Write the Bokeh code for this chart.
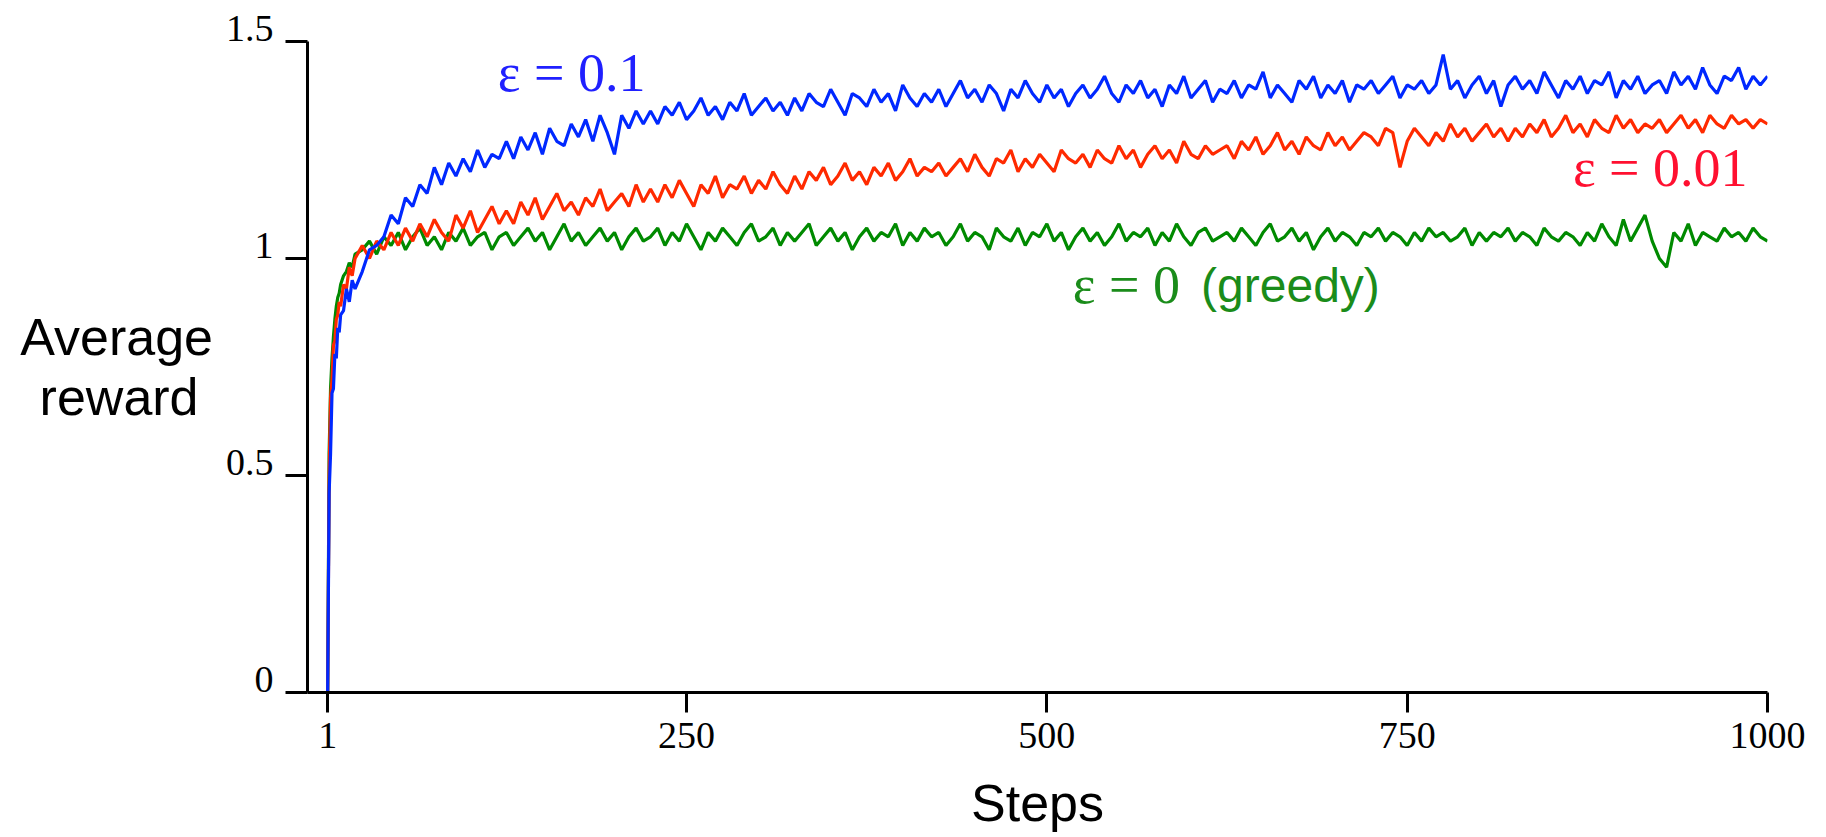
from bokeh.plotting import figure
from bokeh.models import Range1d, FixedTicker, Label
from bokeh.embed import file_html
from bokeh.resources import INLINE

# ---------------- data ----------------
STEPS = [1, 2, 3, 4, 5, 6, 7, 8, 9, 10, 12, 14, 16, 18, 20,
         25, 30, 35, 40, 45, 50, 55, 60, 65, 70, 75, 80, 85, 90, 95, 100, 105, 110, 115, 120,
         125, 130, 135, 140, 145, 150, 155, 160, 165, 170, 175, 180, 185, 190, 195, 200, 205, 210, 215, 220,
         225, 230, 235, 240, 245, 250, 255, 260, 265, 270, 275, 280, 285, 290, 295, 300, 305, 310, 315, 320,
         325, 330, 335, 340, 345, 350, 355, 360, 365, 370, 375, 380, 385, 390, 395, 400, 405, 410, 415, 420,
         425, 430, 435, 440, 445, 450, 455, 460, 465, 470, 475, 480, 485, 490, 495, 500, 505, 510, 515, 520,
         525, 530, 535, 540, 545, 550, 555, 560, 565, 570, 575, 580, 585, 590, 595, 600, 605, 610, 615, 620,
         625, 630, 635, 640, 645, 650, 655, 660, 665, 670, 675, 680, 685, 690, 695, 700, 705, 710, 715, 720,
         725, 730, 735, 740, 745, 750, 755, 760, 765, 770, 775, 780, 785, 790, 795, 800, 805, 810, 815, 820,
         825, 830, 835, 840, 845, 850, 855, 860, 865, 870, 875, 880, 885, 890, 895, 900, 905, 910, 915, 920,
         925, 930, 935, 940, 945, 950, 955, 960, 965, 970, 975, 980, 985, 990, 995, 1000]

EPS_01 = [0.0, 0.46, 0.55, 0.69, 0.70, 0.78, 0.77, 0.84, 0.83, 0.87, 0.88, 0.93, 0.90, 0.95, 0.93,
          0.97, 1.02, 1.03, 1.05, 1.10, 1.08, 1.14, 1.12, 1.17, 1.15, 1.21, 1.17, 1.22, 1.19, 1.23, 1.20, 1.25, 1.21, 1.24, 1.23,
          1.27, 1.23, 1.28, 1.25, 1.29, 1.24, 1.30, 1.27, 1.26, 1.31, 1.28, 1.32, 1.27, 1.33, 1.29, 1.24, 1.33, 1.30, 1.34, 1.31,
          1.34, 1.31, 1.35, 1.33, 1.36, 1.32, 1.34, 1.37, 1.33, 1.35, 1.32, 1.36, 1.34, 1.38, 1.33, 1.35, 1.37, 1.34, 1.36, 1.33,
          1.37, 1.34, 1.38, 1.36, 1.35, 1.39, 1.36, 1.33, 1.38, 1.37, 1.35, 1.39, 1.36, 1.38, 1.34, 1.40, 1.37, 1.35, 1.38, 1.36,
          1.39, 1.35, 1.38, 1.41, 1.37, 1.39, 1.36, 1.40, 1.38, 1.34, 1.39, 1.37, 1.41, 1.38, 1.36, 1.40, 1.37, 1.39, 1.35, 1.38,
          1.40, 1.37, 1.39, 1.42, 1.38, 1.36, 1.40, 1.38, 1.41, 1.37, 1.39, 1.35, 1.40, 1.38, 1.42, 1.37, 1.39, 1.41, 1.36, 1.39,
          1.38, 1.41, 1.37, 1.40, 1.39, 1.43, 1.37, 1.40, 1.38, 1.36, 1.41, 1.39, 1.42, 1.37, 1.40, 1.38, 1.41, 1.36, 1.40, 1.39,
          1.41, 1.38, 1.40, 1.42, 1.37, 1.40, 1.39, 1.41, 1.38, 1.40, 1.47, 1.39, 1.41, 1.37, 1.40, 1.42, 1.38, 1.41, 1.35, 1.40,
          1.42, 1.39, 1.41, 1.38, 1.43, 1.40, 1.37, 1.41, 1.39, 1.42, 1.38, 1.41, 1.40, 1.43, 1.37, 1.41, 1.39, 1.42, 1.38, 1.40,
          1.41, 1.38, 1.43, 1.40, 1.42, 1.39, 1.44, 1.40, 1.38, 1.42, 1.41, 1.44, 1.39, 1.42, 1.40, 1.42]

EPS_001 = [0.0, 0.50, 0.68, 0.72, 0.80, 0.81, 0.86, 0.87, 0.90, 0.89, 0.94, 0.93, 0.98, 0.96, 1.00,
           1.03, 1.00, 1.04, 1.02, 1.06, 1.03, 1.07, 1.04, 1.08, 1.05, 1.09, 1.06, 1.04, 1.10, 1.07, 1.11, 1.06, 1.09, 1.12, 1.08,
           1.11, 1.08, 1.13, 1.10, 1.14, 1.09, 1.12, 1.15, 1.11, 1.13, 1.10, 1.14, 1.12, 1.16, 1.11, 1.13, 1.15, 1.12, 1.17, 1.13,
           1.16, 1.13, 1.17, 1.14, 1.18, 1.15, 1.12, 1.17, 1.15, 1.19, 1.14, 1.17, 1.16, 1.19, 1.15, 1.18, 1.16, 1.20, 1.17, 1.15,
           1.19, 1.16, 1.20, 1.18, 1.21, 1.17, 1.19, 1.22, 1.18, 1.20, 1.17, 1.21, 1.19, 1.22, 1.18, 1.20, 1.23, 1.19, 1.21, 1.20,
           1.22, 1.19, 1.21, 1.23, 1.20, 1.24, 1.21, 1.19, 1.23, 1.22, 1.25, 1.20, 1.23, 1.21, 1.24, 1.22, 1.20, 1.25, 1.23, 1.22,
           1.24, 1.21, 1.25, 1.23, 1.22, 1.26, 1.23, 1.25, 1.21, 1.24, 1.26, 1.23, 1.25, 1.22, 1.27, 1.24, 1.23, 1.26, 1.24, 1.25,
           1.26, 1.23, 1.27, 1.25, 1.28, 1.24, 1.26, 1.29, 1.25, 1.27, 1.24, 1.28, 1.26, 1.25, 1.29, 1.26, 1.28, 1.25, 1.27, 1.29,
           1.28, 1.26, 1.30, 1.29, 1.21, 1.27, 1.30, 1.28, 1.26, 1.29, 1.27, 1.31, 1.28, 1.30, 1.27, 1.29, 1.31, 1.28, 1.30, 1.27,
           1.30, 1.28, 1.31, 1.29, 1.32, 1.28, 1.30, 1.33, 1.29, 1.31, 1.28, 1.32, 1.30, 1.29, 1.33, 1.30, 1.32, 1.29, 1.31, 1.30,
           1.32, 1.29, 1.31, 1.33, 1.30, 1.32, 1.29, 1.33, 1.31, 1.30, 1.33, 1.31, 1.32, 1.30, 1.32, 1.31]

EPS_0 = [0.0, 0.55, 0.70, 0.77, 0.82, 0.86, 0.89, 0.91, 0.92, 0.94, 0.96, 0.97, 0.99, 0.98, 1.01,
         1.02, 1.04, 1.01, 1.05, 1.03, 1.06, 1.02, 1.05, 1.07, 1.03, 1.05, 1.02, 1.06, 1.04, 1.07, 1.03, 1.05, 1.06, 1.02, 1.05,
         1.06, 1.03, 1.05, 1.07, 1.04, 1.06, 1.02, 1.05, 1.08, 1.04, 1.06, 1.03, 1.05, 1.07, 1.04, 1.06, 1.02, 1.05, 1.07, 1.04,
         1.05, 1.07, 1.03, 1.06, 1.04, 1.08, 1.05, 1.02, 1.06, 1.04, 1.07, 1.05, 1.03, 1.06, 1.08, 1.04, 1.05, 1.07, 1.03, 1.06,
         1.04, 1.06, 1.08, 1.03, 1.05, 1.07, 1.04, 1.06, 1.02, 1.05, 1.07, 1.04, 1.06, 1.05, 1.08, 1.03, 1.06, 1.04, 1.07, 1.05,
         1.06, 1.03, 1.05, 1.08, 1.04, 1.06, 1.05, 1.02, 1.07, 1.05, 1.04, 1.07, 1.03, 1.06, 1.05, 1.08, 1.04, 1.06, 1.02, 1.05,
         1.07, 1.04, 1.06, 1.03, 1.05, 1.08, 1.04, 1.06, 1.05, 1.07, 1.03, 1.06, 1.04, 1.08, 1.05, 1.03, 1.06, 1.07, 1.04, 1.05,
         1.06, 1.04, 1.07, 1.05, 1.03, 1.06, 1.08, 1.04, 1.05, 1.07, 1.04, 1.06, 1.02, 1.05, 1.07, 1.04, 1.06, 1.05, 1.03, 1.06,
         1.05, 1.07, 1.04, 1.06, 1.05, 1.03, 1.06, 1.04, 1.07, 1.05, 1.06, 1.04, 1.05, 1.07, 1.03, 1.06, 1.04, 1.06, 1.05, 1.07,
         1.04, 1.06, 1.05, 1.03, 1.07, 1.05, 1.04, 1.06, 1.05, 1.03, 1.06, 1.04, 1.08, 1.05, 1.03, 1.09, 1.04, 1.07, 1.10, 1.04,
         1.00, 0.98, 1.06, 1.04, 1.08, 1.03, 1.06, 1.05, 1.04, 1.07, 1.05, 1.06, 1.04, 1.07, 1.05, 1.04]

X_TICKS = [1, 250, 500, 750, 1000]
Y_TICKS = [0, 0.5, 1, 1.5]
Y_TICK_LABELS = ["0", "0.5", "1", "1.5"]

BLUE = "#0028FF"
RED = "#FF2A00"
GREEN = "#008A00"

# ---------------- figure ----------------
p = figure(width=1810, height=837, output_backend="svg", toolbar_location=None,
           x_range=Range1d(-13, 1000), y_range=Range1d(0, 1.5),
           min_border_left=307, min_border_right=43, min_border_top=41, min_border_bottom=145)
p.outline_line_color = None
p.xgrid.visible = False
p.ygrid.visible = False
p.background_fill_color = "white"
p.border_fill_color = "white"

# axes
for ax in (p.xaxis[0], p.yaxis[0]):
    ax.axis_line_width = 3
    ax.axis_line_color = "black"
    ax.major_tick_line_width = 3
    ax.major_tick_line_color = "black"
    ax.minor_tick_line_color = None
    ax.major_tick_in = 0
    ax.major_label_text_font = "Liberation Serif"
    ax.major_label_text_color = "black"
    ax.axis_label_text_font = "Liberation Sans"
    ax.axis_label_text_font_style = "normal"
    ax.axis_label_text_font_size = "52px"
    ax.axis_label_text_color = "black"

p.xaxis.ticker = FixedTicker(ticks=X_TICKS)
p.xaxis.major_tick_out = 20
p.xaxis.major_label_standoff = 10
p.xaxis.major_label_text_font_size = "38px"
p.xaxis.axis_label = "Steps"
p.xaxis.axis_label_standoff = 23

p.yaxis.ticker = FixedTicker(ticks=Y_TICKS)
p.yaxis.major_tick_out = 22
p.yaxis.major_label_standoff = 12
p.yaxis.major_label_text_font_size = "38px"
p.yaxis.major_label_text_line_height = 0.65
p.yaxis.major_label_overrides = {t: lab + "\n" for t, lab in zip(Y_TICKS, Y_TICK_LABELS)}
p.yaxis.axis_label = "Average\nreward\u00a0"
p.yaxis.axis_label_orientation = "horizontal"
p.yaxis.axis_label_standoff = 10
p.yaxis.axis_label_text_line_height = 1.05

# lines
p.line(STEPS, EPS_0, line_color=GREEN, line_width=3.2)
p.line(STEPS, EPS_001, line_color=RED, line_width=3.2)
p.line(STEPS, EPS_01, line_color=BLUE, line_width=3.2)

# annotations
def add_label(x, y, text, color, font, size, align="left"):
    p.add_layout(Label(x=x, y=y, text=text, text_color=color, text_font=font,
                       text_font_size=size, text_align=align, text_baseline="alphabetic"))

add_label(119, 1.428, "ε = 0.1", "#2020FF", "Liberation Serif", "54px")
add_label(865, 1.209, "ε = 0.01", "#FF1030", "Liberation Serif", "54px")
add_label(518, 0.938, "ε = 0", "#1A8C1A", "Liberation Serif", "54px")
add_label(607, 0.938, "(greedy)", "#1A8C1A", "Liberation Sans", "48px")

open("out.html", "w").write(file_html(p, INLINE))
